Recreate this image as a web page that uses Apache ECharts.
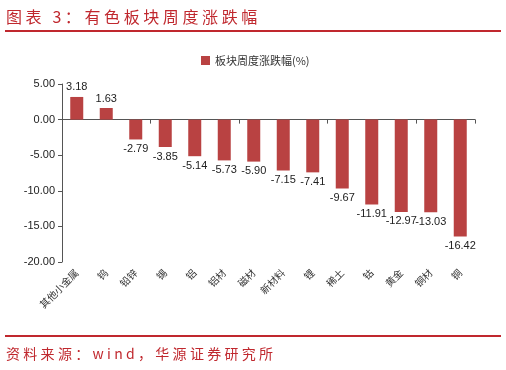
<!DOCTYPE html>
<html>
<head>
<meta charset="utf-8">
<script src="https://cdn.jsdelivr.net/npm/echarts@6/dist/echarts.min.js"></script>
<style>
  html, body { margin: 0; padding: 0; background: #fff; }
  #wrap { position: relative; width: 506px; height: 370px; }
  #chart { position: absolute; left: 0; top: 0; width: 506px; height: 370px; }
  .title {
    position: absolute; left: 6px; top: 4px;
    font-family: "Noto Sans CJK SC", sans-serif; font-size: 16px;
    color: #C0282E; letter-spacing: 3.6px; white-space: nowrap;
  }
  .rule { position: absolute; left: 5px; width: 496px; height: 2px; background: #C0282E; }
  .source {
    position: absolute; left: 6px; top: 343px;
    font-family: "Noto Sans CJK SC", sans-serif; font-size: 14px;
    color: #C0282E; letter-spacing: 3.3px; white-space: nowrap;
  }
</style>
</head>
<body>
<div id="wrap">
  <div id="chart"></div>
  <div class="title">图表 3：有色板块周度涨跌幅</div>
  <div class="rule" style="top:30px"></div>
  <div class="rule" style="top:335px"></div>
  <div class="source">资料来源：wind，华源证券研究所</div>
</div>
<script>
// 板块名称
const categories = ['其他小金属', '钨', '铅锌', '锡', '铝', '铝材', '磁材', '新材料', '锂', '稀土', '钴', '黄金', '铜材', '铜'];
// 周度涨跌幅(%)
const weeklyChange = [3.18, 1.63, -2.79, -3.85, -5.14, -5.73, -5.90, -7.15, -7.41, -9.67, -11.91, -12.97, -13.03, -16.42];
// 纵轴范围
const yMin = -20;
const yMax = 5;
const yStep = 5;

const chart = echarts.init(document.getElementById('chart'));

const option = {
    animation: false,
    textStyle: { fontFamily: 'Liberation Sans, Arial, sans-serif' },
    legend: {
        data: ['板块周度涨跌幅(%)'],
        left: 196,
        top: 50,
        icon: 'rect',
        itemWidth: 9,
        itemHeight: 9,
        itemGap: 4,
        textStyle: { fontSize: 11, color: '#333', fontFamily: 'Noto Sans CJK SC, sans-serif' }
    },
    grid: { left: 62, right: 31, top: 84, bottom: 108 },
    xAxis: [
        {
            type: 'category',
            data: categories,
            axisLine: { onZero: true, lineStyle: { color: '#555', width: 1 } },
            axisTick: { show: true, length: 4, lineStyle: { color: '#555' } },
            axisLabel: { show: false }
        },
        {
            type: 'category',
            data: categories,
            position: 'bottom',
            axisLine: { show: false },
            axisTick: { show: false },
            axisLabel: {
                rotate: 45,
                fontSize: 10,
                color: '#333',
                margin: 9,
                fontFamily: 'Noto Sans CJK SC, sans-serif'
            }
        }
    ],
    yAxis: {
        type: 'value',
        min: yMin,
        max: yMax,
        interval: yStep,
        axisLine: { show: true, lineStyle: { color: '#555' } },
        axisTick: { show: true, length: 4, lineStyle: { color: '#555' } },
        splitLine: { show: false },
        axisLabel: {
            fontSize: 11,
            color: '#222',
            margin: 7,
            formatter: v => v.toFixed(2)
        }
    },
    series: [
        {
            name: '板块周度涨跌幅(%)',
            type: 'bar',
            xAxisIndex: 0,
            barWidth: 13,
            itemStyle: { color: '#B94242' },
            label: {
                show: true,
                fontSize: 11,
                color: '#222',
                formatter: p => p.value.toFixed(2)
            },
            data: weeklyChange.map(v => ({
                value: v,
                label: { position: v >= 0 ? 'top' : 'bottom', distance: 4 }
            }))
        }
    ]
};

chart.setOption(option);
</script>
</body>
</html>
